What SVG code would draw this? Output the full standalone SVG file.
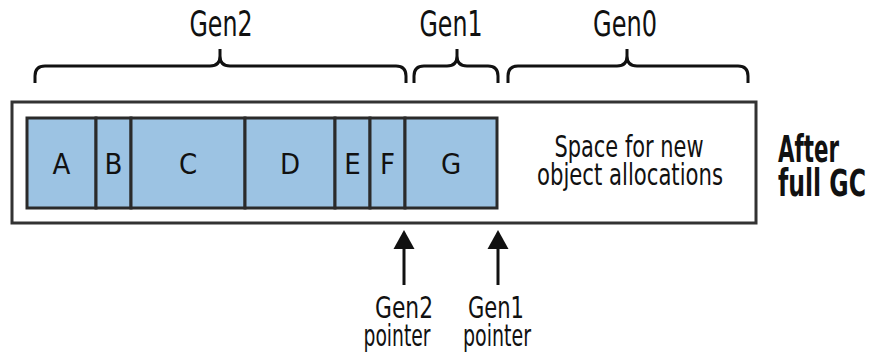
<svg xmlns="http://www.w3.org/2000/svg" width="873" height="359" viewBox="0 0 873 359">
<style>
text{font-family:"DejaVu Sans Condensed","DejaVu Sans",sans-serif;font-stretch:condensed;fill:#111;text-anchor:middle}
.cell{fill:#9cc3e3;stroke:#2a2a2a;stroke-width:3}
.outer{fill:#fff;stroke:#333;stroke-width:3}
.brace{fill:none;stroke:#111;stroke-width:3;stroke-linecap:butt}
.arrow{stroke:#111;stroke-width:3}
.head{fill:#111}
.lbl{font-size:29px}
.top{font-size:35px}
.bot{font-size:30px}
.space{font-size:30px}
.bold{font-weight:bold;font-size:37px;text-anchor:start}
</style>
<rect width="873" height="359" fill="#fff"/>
<g id="braces">
<path class="brace" d="M35,83 V76 Q35,66 45,66 H210 Q220,66 220,56 V49 M220,56 Q220,66 230,66 H396 Q406,66 406,76 V83"/>
<path class="brace" d="M414,83 V76 Q414,66 424,66 H447 Q457,66 457,56 V49 M457,56 Q457,66 467,66 H488 Q498,66 498,76 V83"/>
<path class="brace" d="M508,83 V76 Q508,66 518,66 H617 Q627,66 627,56 V49 M627,56 Q627,66 637,66 H738 Q748,66 748,76 V83"/>
<text class="top" x="221" y="36" textLength="63" lengthAdjust="spacingAndGlyphs">Gen2</text>
<text class="top" x="451" y="36" textLength="63" lengthAdjust="spacingAndGlyphs">Gen1</text>
<text class="top" x="625" y="36" textLength="64" lengthAdjust="spacingAndGlyphs">Gen0</text>
</g>
<g id="heap">
<rect class="outer" x="12" y="102" width="744" height="121"/>
<text class="space" x="629" y="157" textLength="149" lengthAdjust="spacingAndGlyphs">Space for new</text>
<text class="space" x="630" y="185" textLength="186" lengthAdjust="spacingAndGlyphs">object allocations</text>
</g>
<g id="A"><rect class="cell" x="27" y="118" width="69" height="90"/><text class="lbl" x="61.5" y="174">A</text></g>
<g id="B"><rect class="cell" x="96" y="118" width="35" height="90"/><text class="lbl" x="113.5" y="174">B</text></g>
<g id="C"><rect class="cell" x="131" y="118" width="114" height="90"/><text class="lbl" x="188" y="174">C</text></g>
<g id="D"><rect class="cell" x="245" y="118" width="90" height="90"/><text class="lbl" x="290" y="174">D</text></g>
<g id="E"><rect class="cell" x="335" y="118" width="35" height="90"/><text class="lbl" x="352.5" y="174">E</text></g>
<g id="F"><rect class="cell" x="370" y="118" width="35" height="90"/><text class="lbl" x="387.5" y="174">F</text></g>
<g id="G"><rect class="cell" x="405" y="118" width="92" height="90"/><text class="lbl" x="451" y="174">G</text></g>
<g id="title">
<text class="bold" x="778" y="162" textLength="61" lengthAdjust="spacingAndGlyphs">After</text>
<text class="bold" x="778" y="196" textLength="88" lengthAdjust="spacingAndGlyphs">full GC</text>
</g>
<g id="connectors">
<line class="arrow" x1="404" y1="285" x2="404" y2="246"/>
<polygon class="head" points="404,230 393.5,249 414.5,249"/>
<line class="arrow" x1="498" y1="285" x2="498" y2="246"/>
<polygon class="head" points="498,230 487.5,249 508.5,249"/>
</g>
<g id="gen2-pointer">
<text class="bot" x="404" y="318" textLength="58" lengthAdjust="spacingAndGlyphs">Gen2</text>
<text class="bot" x="397" y="346" textLength="67" lengthAdjust="spacingAndGlyphs">pointer</text>
</g>
<g id="gen1-pointer">
<text class="bot" x="496" y="318" textLength="56" lengthAdjust="spacingAndGlyphs">Gen1</text>
<text class="bot" x="497" y="346" textLength="68" lengthAdjust="spacingAndGlyphs">pointer</text>
</g>
</svg>
